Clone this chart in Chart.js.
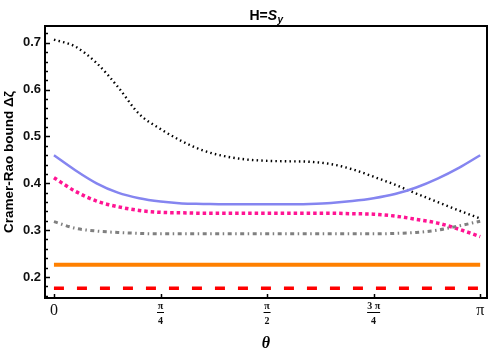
<!DOCTYPE html>
<html>
<head>
<meta charset="utf-8">
<script src="https://cdn.jsdelivr.net/npm/chart.js@4.4.1/dist/chart.umd.min.js"></script>
<style>
  body { margin: 0; background: #fff; }
  #wrap { width: 492px; height: 356px; }
</style>
</head>
<body>
<div id="wrap"><canvas id="grafico"></canvas></div>
<script>
// ============================================================
// DADOS  (theta em unidades de pi)
// ============================================================

const theta = [0, 0.05, 0.1, 0.15, 0.2, 0.25, 0.3, 0.35, 0.4, 0.45, 0.5,
               0.55, 0.6, 0.65, 0.7, 0.75, 0.8, 0.85, 0.9, 0.95, 1];

const serieBlack = [0.707, 0.692, 0.657, 0.606, 0.548, 0.516, 0.490, 0.470, 0.458, 0.451, 0.448,
                    0.447, 0.446, 0.441, 0.430, 0.414, 0.397, 0.378, 0.360, 0.342, 0.325];
const serieBlue = [0.460, 0.428, 0.400, 0.380, 0.368, 0.361, 0.357, 0.356, 0.355, 0.355, 0.355,
                   0.355, 0.356, 0.358, 0.362, 0.368, 0.377, 0.391, 0.410, 0.433, 0.460];
const serieMagenta = [0.412, 0.383, 0.362, 0.350, 0.342, 0.338, 0.337, 0.336, 0.336, 0.336, 0.336,
                      0.336, 0.336, 0.336, 0.335, 0.334, 0.330, 0.323, 0.315, 0.302, 0.286];
const serieGray = [0.318, 0.304, 0.298, 0.295, 0.293, 0.292, 0.292, 0.292, 0.292, 0.292, 0.292,
                   0.292, 0.292, 0.292, 0.292, 0.292, 0.293, 0.295, 0.300, 0.309, 0.319];
const serieOrange = [0.226, 0.226, 0.226, 0.226, 0.226, 0.226, 0.226, 0.226, 0.226, 0.226, 0.226,
                     0.226, 0.226, 0.226, 0.226, 0.226, 0.226, 0.226, 0.226, 0.226, 0.226];
const serieRed = [0.176, 0.176, 0.176, 0.176, 0.176, 0.176, 0.176, 0.176, 0.176, 0.176, 0.176,
                  0.176, 0.176, 0.176, 0.176, 0.176, 0.176, 0.176, 0.176, 0.176, 0.176];

const xTicks = [0, 0.25, 0.5, 0.75, 1];
const xTickLabels = ['0', ['π', '4'], ['π', '2'], ['3 π', '4'], 'π'];
const yTicks = [0.2, 0.3, 0.4, 0.5, 0.6, 0.7];

const pontos = arr => theta.map((t, i) => ({ x: t, y: arr[i] }));

// ============================================================
// PLUGINS: moldura, marcas internas, rotulos de x, titulo
// ============================================================

const molduraPlugin = {
    id: 'moldura',
    afterDraw(chart) {
        const ctx = chart.ctx;
        const a = chart.chartArea;
        const xs = chart.scales.x;
        const ys = chart.scales.y;
        ctx.save();
        ctx.strokeStyle = '#000';
        ctx.lineWidth = 2;
        ctx.strokeRect(a.left, a.top, a.right - a.left, a.bottom - a.top);

        // marcas do eixo y (para dentro)
        ctx.lineWidth = 1.5;
        for (let v = 0.16; v <= 0.73; v += 0.02) {
            const major = Math.abs(v * 10 - Math.round(v * 10)) < 1e-6;
            const py = Math.round(ys.getPixelForValue(v)) + 0.5;
            ctx.beginPath();
            ctx.moveTo(a.left, py);
            ctx.lineTo(a.left + (major ? 5 : 3), py);
            ctx.stroke();
        }
        // marcas do eixo x
        xTicks.forEach(v => {
            const px = Math.round(xs.getPixelForValue(v)) + 0.5;
            ctx.beginPath();
            ctx.moveTo(px, a.bottom);
            ctx.lineTo(px, a.bottom - 4);
            ctx.stroke();
        });

        // rotulos de x (fracoes de pi)
        ctx.fillStyle = '#111';
        ctx.textAlign = 'center';
        ctx.textBaseline = 'middle';
        ctx.lineWidth = 1;
        xTickLabels.forEach((lab, i) => {
            const px = xs.getPixelForValue(xTicks[i]);
            if (Array.isArray(lab)) {
                ctx.font = 'bold 10px "Liberation Serif", serif';
                ctx.fillText(lab[0], px, a.bottom + 8);
                ctx.fillText(lab[1], px, a.bottom + 23);
                const w = lab[0].length > 1 ? 13 : 7;
                ctx.beginPath();
                ctx.moveTo(px - w / 2, a.bottom + 14.5);
                ctx.lineTo(px + w / 2, a.bottom + 14.5);
                ctx.stroke();
            } else {
                ctx.font = '16px "Liberation Serif", serif';
                ctx.fillText(lab, px, a.bottom + 13);
            }
        });

        // titulo H=S_y
        const cx = (a.left + a.right) / 2;
        const base = 20;
        ctx.fillStyle = '#000';
        ctx.textAlign = 'left';
        ctx.textBaseline = 'alphabetic';
        ctx.font = 'bold 14px "Liberation Sans", Arial, sans-serif';
        const t1 = 'H=';
        const w1 = ctx.measureText(t1).width;
        ctx.font = 'italic bold 14px "Liberation Sans", Arial, sans-serif';
        const w2 = ctx.measureText('S').width;
        ctx.font = 'italic bold 10px "Liberation Sans", Arial, sans-serif';
        const w3 = ctx.measureText('y').width;
        let x0 = cx - (w1 + w2 + w3) / 2;
        ctx.font = 'bold 14px "Liberation Sans", Arial, sans-serif';
        ctx.fillText(t1, x0, base);
        ctx.font = 'italic bold 14px "Liberation Sans", Arial, sans-serif';
        ctx.fillText('S', x0 + w1, base);
        ctx.font = 'italic bold 10px "Liberation Sans", Arial, sans-serif';
        ctx.fillText('y', x0 + w1 + w2 + 0.5, base + 3);
        ctx.restore();
    }
};

// ============================================================
// GRAFICO
// ============================================================

function serie(label, dados, cor, largura, tracejado) {
    return {
        label: label,
        data: pontos(dados),
        borderColor: cor,
        borderWidth: largura,
        borderDash: tracejado,
        pointRadius: 0,
        fill: false,
        cubicInterpolationMode: 'monotone',
        borderCapStyle: 'butt'
    };
}

function init() {
    const ctx = document.getElementById('grafico').getContext('2d');
    new Chart(ctx, {
        type: 'line',
        data: {
            datasets: [
                serie('red', serieRed, '#ff0000', 3.5, [10, 13]),
                serie('orange', serieOrange, '#ff8000', 4, []),
                serie('gray', serieGray, '#808080', 3, [4, 3.5, 1.5, 3.5]),
                serie('magenta', serieMagenta, '#ff1493', 3.5, [3.5, 3]),
                serie('blue', serieBlue, '#8585f0', 2.5, []),
                serie('black', serieBlack, '#000000', 2.4, [1.5, 3.2])
            ]
        },
        options: {
            responsive: true,
            maintainAspectRatio: false,
            animation: false,
            layout: { padding: { top: 26, right: 5, left: 0, bottom: 0 } },
            plugins: {
                legend: { display: false },
                tooltip: { enabled: false }
            },
            scales: {
                x: {
                    type: 'linear',
                    min: -0.021,
                    max: 1.016,
                    grid: { display: false, drawTicks: false },
                    border: { display: false },
                    afterBuildTicks: s => { s.ticks = xTicks.map(v => ({ value: v })); },
                    afterFit: s => { s.height = 58; },
                    ticks: { display: false },
                    title: {
                        display: true,
                        text: 'θ',
                        color: '#000',
                        font: { family: '"Liberation Serif", serif', size: 16, weight: 'bold', style: 'italic' },
                        padding: { top: 0, bottom: 3 }
                    }
                },
                y: {
                    min: 0.155,
                    max: 0.736,
                    grid: { display: false, drawTicks: false },
                    border: { display: false },
                    afterBuildTicks: s => { s.ticks = yTicks.map(v => ({ value: v })); },
                    afterFit: s => { s.width = 45; },
                    ticks: {
                        padding: 4,
                        color: '#111',
                        callback: v => v.toFixed(1),
                        font: { family: '"Liberation Sans Narrow", "Liberation Sans", Arial, sans-serif', size: 13, weight: 'bold' }
                    },
                    title: {
                        display: true,
                        text: 'Cramer-Rao bound Δζ',
                        color: '#000',
                        font: { family: '"Liberation Sans", Arial, sans-serif', size: 13.5, weight: 'bold' },
                        padding: { top: 1, bottom: 0 }
                    }
                }
            }
        },
        plugins: [molduraPlugin]
    });
}

document.addEventListener('DOMContentLoaded', init);
</script>
</body>
</html>
